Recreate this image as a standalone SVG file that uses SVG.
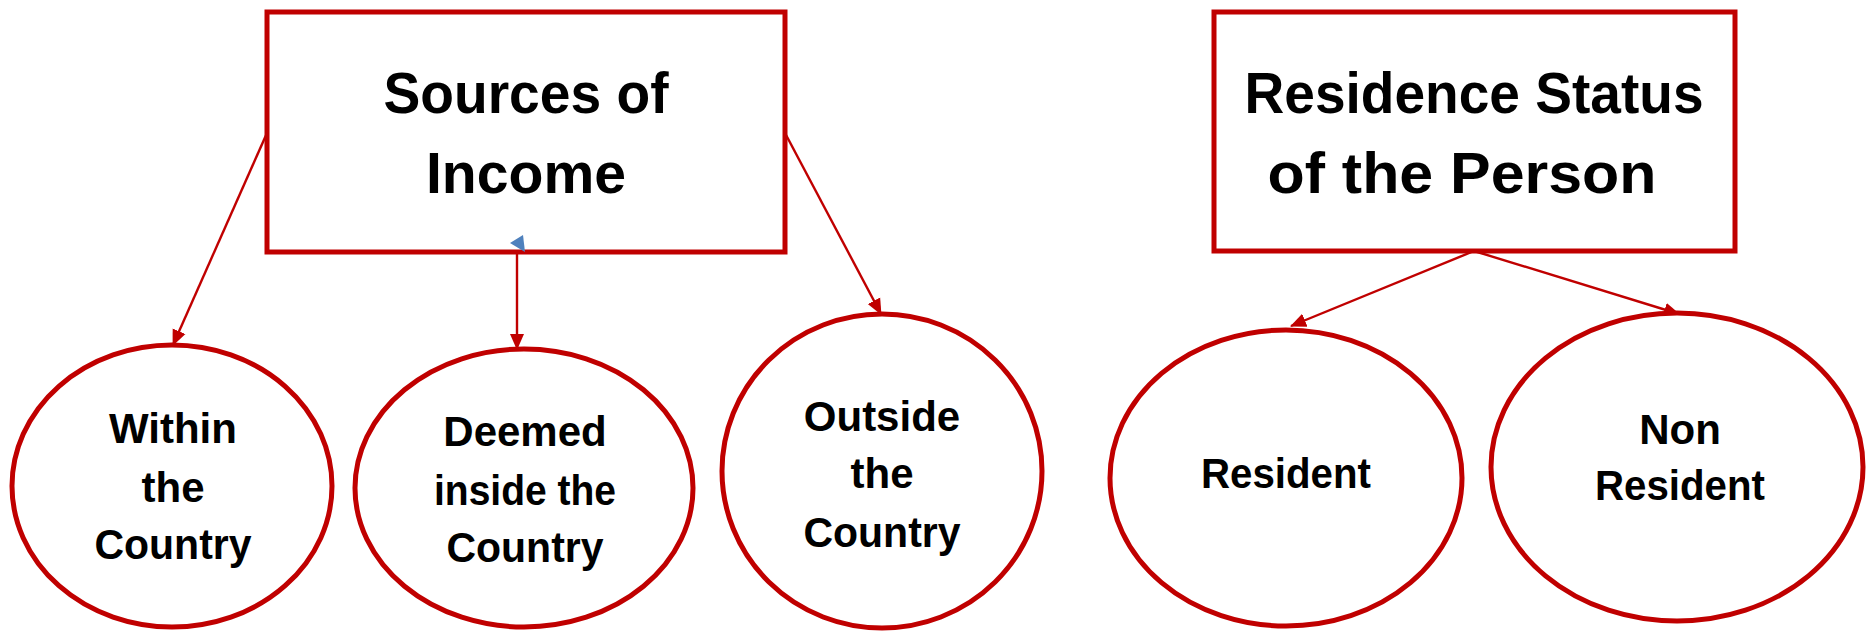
<svg xmlns="http://www.w3.org/2000/svg" width="1866" height="631" viewBox="0 0 1866 631">
  <style>
    .box { fill: #ffffff; stroke: #C00000; stroke-width: 5; }
    .oval { fill: #ffffff; stroke: #C00000; stroke-width: 5; }
    .link { fill: none; stroke: #C00000; stroke-width: 2.4; marker-end: url(#arrow); }
    .title { font-family: "Liberation Sans", Arial, sans-serif; font-weight: bold; font-size: 58px; fill: #000000; text-anchor: middle; }
    .label { font-family: "Liberation Sans", Arial, sans-serif; font-weight: bold; font-size: 42px; fill: #000000; text-anchor: middle; }
  </style>
  <defs>
    <marker id="arrow" markerUnits="userSpaceOnUse" markerWidth="16" markerHeight="16" viewBox="0 0 16 16" refX="15" refY="8" orient="auto">
      <path d="M0,1 L16,8 L0,15 Z" fill="#C00000"/>
    </marker>
  </defs>
  <rect width="1866" height="631" fill="#ffffff"/>

  <!-- connectors -->
  <g id="connectors">
    <line class="link" x1="267" y1="133" x2="173" y2="345"/>
    <line class="link" x1="517" y1="252" x2="517" y2="349"/>
    <line class="link" x1="785" y1="133" x2="881" y2="314"/>
    <line class="link" x1="1474" y1="251" x2="1291" y2="326"/>
    <line class="link" x1="1474" y1="251" x2="1679" y2="314"/>
  </g>

  <!-- top-level categories -->
  <g id="sources-of-income">
    <rect class="box" x="267" y="12" width="518" height="240"/>
    <text class="title" x="526" y="113" textLength="285" lengthAdjust="spacingAndGlyphs">Sources of</text>
    <text class="title" x="526" y="193" textLength="200" lengthAdjust="spacingAndGlyphs">Income</text>
  </g>
  <polygon id="stray-head" points="510,243 523,235 525,252" fill="#4F81BD"/>

  <g id="residence-status">
    <rect class="box" x="1214" y="12" width="521" height="239"/>
    <text class="title" x="1474" y="113" textLength="459" lengthAdjust="spacingAndGlyphs">Residence Status</text>
    <text class="title" x="1462" y="193" textLength="389" lengthAdjust="spacingAndGlyphs">of the Person</text>
  </g>

  <!-- income source ovals -->
  <g id="within-country">
    <ellipse class="oval" cx="172" cy="486" rx="160" ry="141"/>
    <text class="label" x="173" y="443">Within</text>
    <text class="label" x="173" y="502">the</text>
    <text class="label" x="173" y="559" textLength="157" lengthAdjust="spacingAndGlyphs">Country</text>
  </g>
  <g id="deemed-inside">
    <ellipse class="oval" cx="524" cy="488" rx="169" ry="139"/>
    <text class="label" x="525" y="446">Deemed</text>
    <text class="label" x="525" y="505" textLength="182" lengthAdjust="spacingAndGlyphs">inside the</text>
    <text class="label" x="525" y="562" textLength="157" lengthAdjust="spacingAndGlyphs">Country</text>
  </g>
  <g id="outside-country">
    <ellipse class="oval" cx="882" cy="471" rx="160" ry="157"/>
    <text class="label" x="882" y="431">Outside</text>
    <text class="label" x="882" y="488">the</text>
    <text class="label" x="882" y="547" textLength="157" lengthAdjust="spacingAndGlyphs">Country</text>
  </g>

  <!-- residence ovals -->
  <g id="resident">
    <ellipse class="oval" cx="1286" cy="478" rx="176" ry="148"/>
    <text class="label" x="1286" y="488" textLength="170" lengthAdjust="spacingAndGlyphs">Resident</text>
  </g>
  <g id="non-resident">
    <ellipse class="oval" cx="1677" cy="467" rx="186" ry="154"/>
    <text class="label" x="1680" y="444">Non</text>
    <text class="label" x="1680" y="500" textLength="170" lengthAdjust="spacingAndGlyphs">Resident</text>
  </g>
</svg>
